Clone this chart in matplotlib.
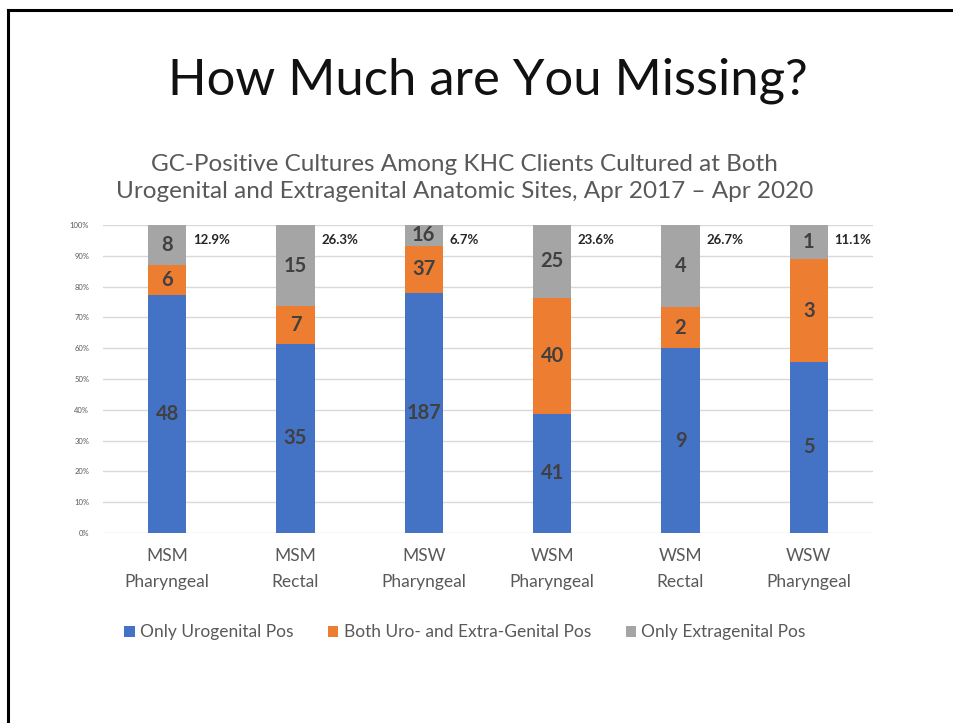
import numpy as np
import matplotlib.pyplot as plt
from matplotlib.lines import Line2D

plt.rcParams['font.family'] = ['Lato', 'DejaVu Sans']

categories = ['MSM\nPharyngeal', 'MSM\nRectal', 'MSW\nPharyngeal',
              'WSM\nPharyngeal', 'WSM\nRectal', 'WSW\nPharyngeal']
only_uro = [48, 35, 187, 41, 9, 5]
both = [6, 7, 37, 40, 2, 3]
only_extra = [8, 15, 16, 25, 4, 1]
series_names = ['Only Urogenital Pos', 'Both Uro- and Extra-Genital Pos', 'Only Extragenital Pos']
colors = ['#4472C4', '#ED7D31', '#A5A5A5']

counts = np.array([only_uro, both, only_extra], dtype=float)
totals = counts.sum(axis=0)
shares = counts / totals * 100

fig = plt.figure(figsize=(9.54, 7.23), dpi=100)

# slide border
fig.add_artist(Line2D([0.0085, 0.0085], [0, 0.986], color='black', lw=2.2, transform=fig.transFigure))
fig.add_artist(Line2D([0.0085, 1.0], [0.986, 0.986], color='black', lw=2.2, transform=fig.transFigure))

fig.text(0.511, 0.888, 'How Much are You Missing?', ha='center', va='center',
         fontsize=36.5, fontweight='normal', color='#111111')
fig.text(0.487, 0.754, 'GC-Positive Cultures Among KHC Clients Cultured at Both\n'
         'Urogenital and Extragenital Anatomic Sites, Apr 2017 \u2013 Apr 2020',
         ha='center', va='center', fontsize=17.5, color='#595959', linespacing=1.38)

ax = fig.add_axes([0.108, 0.2628, 0.807, 0.426])
x = np.arange(len(categories))
bottom = np.zeros(len(categories))
for i in range(3):
    ax.bar(x, shares[i], 0.3, bottom=bottom, color=colors[i], label=series_names[i], zorder=2)
    for j in range(len(categories)):
        ax.text(x[j], bottom[j] + shares[i][j] / 2, str(int(counts[i][j])), ha='center', va='center',
                fontsize=14.5, fontweight='bold', color='#404040', zorder=3)
    bottom += shares[i]

for j in range(len(categories)):
    ax.text(x[j] + 0.2, 95.2, '%.1f%%' % shares[2][j], ha='left', va='center',
            fontsize=9.5, fontweight='bold', color='#262626')

ax.set_xlim(-0.5, len(categories) - 0.5)
ax.set_ylim(0, 100)
ax.set_yticks(np.arange(0, 101, 10))
ax.set_yticklabels(['%d%%' % v for v in range(0, 101, 10)], fontsize=5.5, color='#595959')
ax.set_xticks(x)
ax.set_xticklabels(categories, fontsize=12.5, color='#595959', linespacing=1.75)
ax.tick_params(axis='both', length=0)
ax.tick_params(axis='x', pad=11)
ax.tick_params(axis='y', pad=10)
ax.grid(axis='y', color='#D9D9D9', lw=1, zorder=0)
for s in ax.spines.values():
    s.set_visible(False)

ax.legend(loc='center', bbox_to_anchor=(0.47, -0.322), ncol=3, frameon=False, fontsize=12.5,
          labelcolor='#595959', handlelength=0.6, handleheight=0.6, handletextpad=0.3, columnspacing=2.0)

fig.savefig('out.png', dpi=100)
